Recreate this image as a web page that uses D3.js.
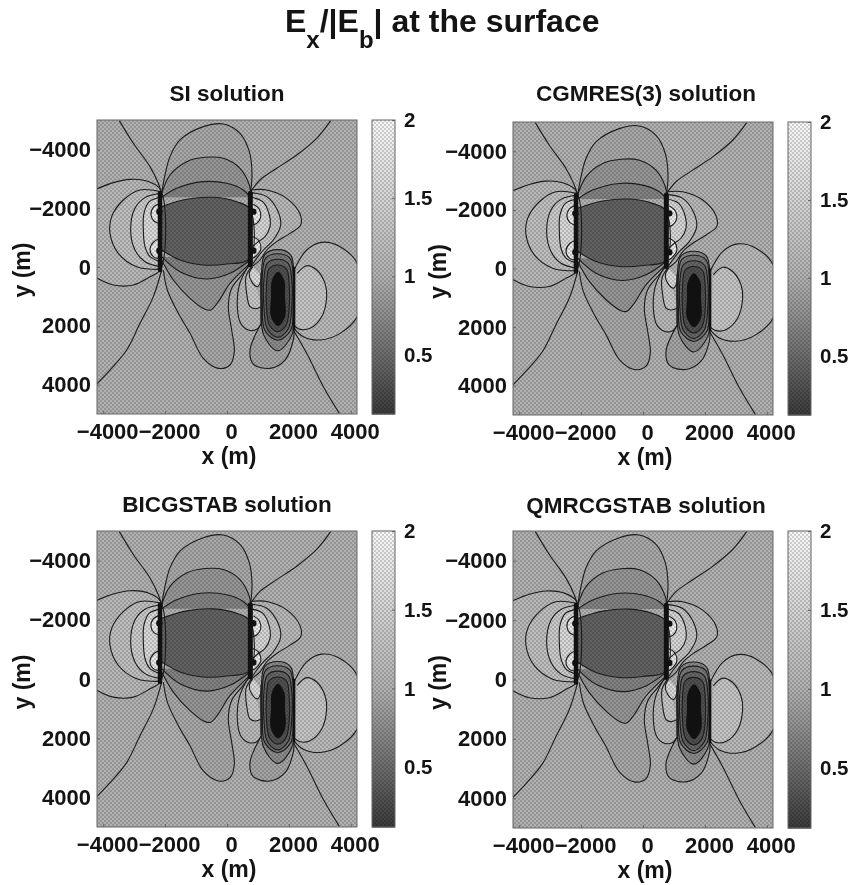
<!DOCTYPE html>
<meta charset="utf-8">
<style>
  body { margin: 0; background: #fff; }
  svg { display: block; filter: blur(0.45px); }
  text { font-family: "Liberation Sans", Arial, sans-serif; font-weight: bold; fill: #141414; }
</style>
<script src="https://d3js.org/d3.v7.min.js"></script>
<div id="my_dataviz"></div>
<script>

  // tick labels
  const xTicks = [-4000, -2000, 0, 2000, 4000]
  const yTicks = [-4000, -2000, 0, 2000, 4000]
  const barTicks = [2, 1.5, 1, 0.5]

  // contours, metres
  const lobeLeft1 = [[-4230,-2642],[-3673,-2869],[-3134,-2982],[-2596,-2926],[-2143,-2620],[-2143,79],[-2488,329],[-3026,612],[-3673,612],[-4230,363]]
  const lobeLeft2 = [[-2143,-2563],[-2811,-2620],[-3349,-2279],[-3726,-1712],[-3780,-1145],[-3511,-465],[-2919,-11],[-2143,79]]
  const lobeLeft3 = [[-2143,-2506],[-2649,-2359],[-2973,-1996],[-3113,-1259],[-2973,-578],[-2649,-181],[-2143,-11]]
  const lobeLeft4 = [[-2143,-2370],[-2509,-2223],[-2682,-1826],[-2703,-1259],[-2649,-692],[-2488,-352],[-2143,-181]]
  const lobeLeft5a = [[-2143,-2166],[-2380,-2030],[-2456,-1769],[-2359,-1565],[-2143,-1463]]
  const lobeLeft5b = [[-2143,-975],[-2359,-862],[-2488,-601],[-2380,-352],[-2143,-272]]

  const domeTop1 = [[-2111,-2506],[-2003,-3130],[-1842,-3754],[-1519,-4321],[-765,-4774],[-118,-4865],[420,-4547],[722,-3924],[808,-3187],[765,-2563]]
  const domeTop2 = [[-2111,-2506],[-1842,-3130],[-1303,-3583],[-711,-3731],[-118,-3697],[420,-3357],[722,-2790],[765,-2506]]
  const domeTop3 = [[-2111,-2370],[-1626,-2676],[-765,-2903],[-11,-2846],[528,-2620],[765,-2370]]
  const lens = [[-2111,-2053],[-1303,-2302],[-442,-2370],[312,-2223],[743,-1962],[743,-295],[-11,-102],[-765,-68],[-1519,-238],[-2111,-578]]
  const bandLow1 = [[-2111,-352],[-1519,159],[-657,408],[97,215],[743,-238]]
  const bandLow2 = [[-2111,-238],[-1734,442],[-1195,1066],[-711,1440],[-528,1463],[-280,1179],[97,556],[743,-125]]
  const bandLow3 = [[-2057,102],[-1928,782],[-1572,1576],[-1195,2257],[-765,3107],[-280,3447],[97,3334],[237,2880],[151,2143],[43,1349],[151,726],[474,272],[743,-68]]

  const lobeRight1 = [[765,-2620],[1282,-2620],[1928,-2336],[2359,-1803],[2380,-1429],[2036,-1145],[1605,-862],[1282,-578],[1066,-238],[829,-34]]
  const lobeRight2 = [[765,-2529],[1282,-2393],[1626,-1939],[1734,-1429],[1497,-919],[1174,-578],[959,-295],[829,-102]]
  const lobeRight3 = [[765,-2370],[1152,-2223],[1368,-1769],[1389,-1372],[1228,-1032],[1012,-862],[829,-692]]
  const lobeRight4a = [[851,-2132],[1045,-1962],[1088,-1690],[959,-1486],[829,-1429]]
  const lobeRight4b = [[829,-1032],[1012,-919],[1088,-601],[937,-374],[829,-295]]

  const tail2 = [[700,-68],[398,612],[334,1349],[442,1916],[689,2143],[959,2121],[1109,1916]]
  const tail3 = [[797,-11],[614,329],[635,896],[743,1349],[915,1418],[1109,1349]]
  const tail4 = [[829,-11],[722,215],[797,499],[991,669],[1131,329]]

  const poleRight1 = [[2165,102],[2574,-578],[3059,-839],[3651,-692],[4230,-68],[4230,1633],[3651,2257],[3005,2483],[2466,2370],[2165,2087]]
  const poleRight2 = [[2272,215],[2574,-45],[2897,102],[3166,556],[3220,1009],[3059,1690],[2682,2087],[2359,2121],[2186,2007]]
  const poleBelow = [[1109,1916],[743,2824],[851,3300],[1389,3447],[1874,3164],[2143,2483],[2165,2143]]

  const ringD = [[1637,-590],[2050,-420],[2165,300],[2165,1300],[2100,2300],[1637,2850],[1180,2300],[1109,1300],[1109,300],[1220,-420]]
  const ringC = [[1640,-450],[2030,-300],[2143,300],[2143,1300],[2060,2150],[1640,2490],[1220,2150],[1142,1300],[1142,300],[1250,-300]]
  const ringB = [[1640,-265],[1980,-120],[2089,400],[2089,1400],[1980,2100],[1640,2395],[1300,2100],[1195,1400],[1195,400],[1300,-120]]
  const ringA = [[1640,-70],[1920,60],[2003,500],[2003,1500],[1900,2000],[1640,2200],[1380,2000],[1282,1500],[1282,500],[1360,60]]
  const ringCore = [[1648,159],[1850,450],[1874,1000],[1874,1700],[1648,2007],[1422,1700],[1422,1000],[1450,450]]

  const splitTopLeft = [[-3479,-4978],[-3026,-4207],[-2488,-3413],[-2219,-2846],[-2111,-2506]]
  const splitTopRight = [[3349,-4978],[2897,-4377],[2251,-3810],[1605,-3357],[1066,-2960],[765,-2563]]
  const splitLowLeft = [[-4211,3980],[-3780,3504],[-3242,2824],[-2811,1916],[-2380,1009],[-2111,102]]
  const splitLowRight = [[2143,2143],[2574,2937],[3113,4071],[3629,4978]]

  const electrodeLeft = [[-2165,-2506],[-2165,102]]
  const electrodeRight = [[754,-2506],[754,-68]]
  const poleEdgeRight = [[2165,0],[2165,2143]]
  const poleEdgeLeft = [[1109,200],[1109,1900]]
  const electrodeDots = [[-2186,-1882],[-2186,-556],[851,-1882],[851,-556]]

  // every open region with the colour value inside it, painted in this order
  const openRegions = [
    [1.1, lobeLeft1], [1.2, lobeLeft2], [1.35, lobeLeft3], [1.55, lobeLeft4], [1.8, lobeLeft5a], [1.8, lobeLeft5b],
    [0.93, domeTop1], [0.8, domeTop2], [0.65, domeTop3],
    [0.93, bandLow3], [0.8, bandLow2], [0.65, bandLow1], [0.42, lens],
    [1.1, lobeRight1], [1.25, lobeRight2], [1.5, lobeRight3], [1.8, lobeRight4a], [1.8, lobeRight4b],
    [1.1, tail2], [1.3, tail3], [1.55, tail4],
    [1.12, poleRight1], [1.27, poleRight2], [0.9, poleBelow]
  ]
  const closedRings = [[0.72, ringD], [0.58, ringC], [0.44, ringB], [0.28, ringA]]
  const splitLines = [splitTopLeft, splitTopRight, splitLowLeft, splitLowRight]

  const panels = [
    {title: "SI solution", titleX: 227, titleY: 101, left: 97, top: 120, bottom: 414, barLeft: 372},
    {title: "CGMRES(3) solution", titleX: 646, titleY: 101, left: 513, top: 122, bottom: 415, barLeft: 788},
    {title: "BICGSTAB solution", titleX: 227, titleY: 512, left: 97, top: 531, bottom: 827, barLeft: 372},
    {title: "QMRCGSTAB solution", titleX: 646, titleY: 513, left: 513, top: 531, bottom: 828, barLeft: 788}
  ]

  const svg = d3.select("#my_dataviz")
    .append("svg")
      .attr("width", 850)
      .attr("height", 885)

  // halftone screen of the printed page
  const defs = svg.append("defs")
  const screen = defs.append("pattern")
    .attr("id", "screen")
    .attr("width", 4).attr("height", 4)
    .attr("patternUnits", "userSpaceOnUse")
  screen.append("rect").attr("width", 4).attr("height", 4).attr("fill", "#fff").attr("fill-opacity", 0.16)
  screen.append("rect").attr("width", 2).attr("height", 2).attr("fill", "#000").attr("fill-opacity", 0.16)
  screen.append("rect").attr("x", 2).attr("y", 2).attr("width", 2).attr("height", 2).attr("fill", "#000").attr("fill-opacity", 0.16)

  const gray = d3.scaleLinear()
    .domain([0.12, 1, 2])
    .range(["#141414", "#a2a2a2", "#f6f6f6"])

  // main title with the two subscripts
  const mainTitle = svg.append("text")
    .attr("x", 285).attr("y", 32)
    .style("font-size", "32px")
  mainTitle.append("tspan").text("E")
  mainTitle.append("tspan").attr("dy", 16).style("font-size", "24px").text("x")
  mainTitle.append("tspan").attr("dy", -16).text("/|E")
  mainTitle.append("tspan").attr("dy", 16).style("font-size", "24px").text("b")
  mainTitle.append("tspan").attr("dy", -16).text("| at the surface")

  panels.forEach(function(p, i) {
    const width = 260
    const x = d3.scaleLinear().domain([-4200, 4200]).range([p.left, p.left + width])
    const y = d3.scaleLinear().domain([-5000, 5000]).range([p.top, p.bottom])

    const line = d3.line().x(d => x(d[0])).y(d => y(d[1])).curve(d3.curveCatmullRom)
    const ringLine = d3.line().x(d => x(d[0])).y(d => y(d[1])).curve(d3.curveCatmullRomClosed)
    const straight = d3.line().x(d => x(d[0])).y(d => y(d[1]))

    defs.append("clipPath").attr("id", "clip" + i)
      .append("rect")
        .attr("x", p.left).attr("y", p.top)
        .attr("width", width).attr("height", p.bottom - p.top)

    const plot = svg.append("g").attr("clip-path", "url(#clip" + i + ")")

    plot.append("rect")
      .attr("x", p.left).attr("y", p.top)
      .attr("width", width).attr("height", p.bottom - p.top)
      .attr("fill", gray(1))

    // fill closes the shape, the stroke stays open and goes over the screen
    openRegions.forEach(function(r) {
      plot.append("path").attr("d", line(r[1]) + "Z").attr("fill", gray(r[0]))
    })
    closedRings.forEach(function(r) {
      plot.append("path").attr("d", ringLine(r[1])).attr("fill", gray(r[0]))
    })

    plot.append("rect")
      .attr("x", p.left).attr("y", p.top)
      .attr("width", width).attr("height", p.bottom - p.top)
      .attr("fill", "url(#screen)")

    openRegions.forEach(function(r) {
      plot.append("path").attr("d", line(r[1]))
        .attr("fill", "none").attr("stroke", "#1c1c1c").attr("stroke-width", 1.1)
    })
    closedRings.forEach(function(r) {
      plot.append("path").attr("d", ringLine(r[1]))
        .attr("fill", "none").attr("stroke", "#1c1c1c").attr("stroke-width", 1.1)
    })
    splitLines.forEach(function(s) {
      plot.append("path").attr("d", line(s))
        .attr("fill", "none").attr("stroke", "#1c1c1c").attr("stroke-width", 1.1)
    })

    // the black core sits above the screen
    plot.append("path").attr("d", ringLine(ringCore)).attr("fill", "#111")

    plot.append("path").attr("d", straight(electrodeLeft))
      .attr("stroke", "#111").attr("stroke-width", 4.5).attr("stroke-linecap", "round")
    plot.append("path").attr("d", straight(electrodeRight))
      .attr("stroke", "#111").attr("stroke-width", 5).attr("stroke-linecap", "round")
    plot.append("path").attr("d", straight(poleEdgeRight))
      .attr("stroke", "#111").attr("stroke-width", 2.6)
    plot.append("path").attr("d", straight(poleEdgeLeft))
      .attr("stroke", "#222").attr("stroke-width", 2)
    plot.selectAll("circle")
      .data(electrodeDots)
      .join("circle")
        .attr("cx", d => x(d[0]))
        .attr("cy", d => y(d[1]))
        .attr("r", 3.2)
        .attr("fill", "#111")

    svg.append("rect")
      .attr("x", p.left).attr("y", p.top)
      .attr("width", width).attr("height", p.bottom - p.top)
      .attr("fill", "none").attr("stroke", "#666")

    // axes
    const xAxis = svg.append("g")
      .attr("transform", "translate(0," + p.bottom + ")")
      .call(d3.axisBottom(x).tickValues(xTicks).tickSize(-3).tickPadding(9).tickFormat(d3.format("d")))
    xAxis.select(".domain").remove()
    xAxis.selectAll("line").attr("stroke", "#666")
    xAxis.selectAll("text").attr("dx", 4).style("font-size", "22px").attr("fill", "#141414")

    const yAxis = svg.append("g")
      .attr("transform", "translate(" + p.left + ",0)")
      .call(d3.axisLeft(y).tickValues(yTicks).tickSize(-3).tickPadding(6).tickFormat(d3.format("d")))
    yAxis.select(".domain").remove()
    yAxis.selectAll("line").attr("stroke", "#666")
    yAxis.selectAll("text").style("font-size", "22px").attr("fill", "#141414")

    svg.append("text")
      .attr("x", x(0) + 2).attr("y", p.bottom + 50)
      .attr("text-anchor", "middle")
      .style("font-size", "23px")
      .text("x (m)")
    svg.append("text")
      .attr("transform", "translate(" + (p.left - 67) + "," + ((p.top + p.bottom) / 2 + 3) + ") rotate(-90)")
      .attr("text-anchor", "middle")
      .style("font-size", "23px")
      .text("y (m)")
    svg.append("text")
      .attr("x", p.titleX).attr("y", p.titleY)
      .attr("text-anchor", "middle")
      .style("font-size", "22.5px")
      .text(p.title)

    // colourbar
    const barWidth = 23
    const barY = d3.scaleLinear().domain([2, 0.12]).range([p.top, p.bottom])
    svg.append("g").selectAll("rect")
      .data(d3.range(p.top, p.bottom))
      .join("rect")
        .attr("x", p.barLeft).attr("y", d => d)
        .attr("width", barWidth).attr("height", 1.5)
        .attr("fill", d => gray(barY.invert(d + 0.5)))
    svg.append("rect")
      .attr("x", p.barLeft).attr("y", p.top)
      .attr("width", barWidth).attr("height", p.bottom - p.top)
      .attr("fill", "url(#screen)")
      .attr("stroke", "#666")
    const barAxis = svg.append("g")
      .attr("transform", "translate(" + (p.barLeft + barWidth) + ",0)")
      .call(d3.axisRight(barY).tickValues(barTicks).tickSize(-3).tickPadding(9).tickFormat(d => d))
    barAxis.select(".domain").remove()
    barAxis.selectAll("line").attr("stroke", "#666")
    barAxis.selectAll("text").style("font-size", "20.5px").attr("fill", "#141414")
  })

</script>
